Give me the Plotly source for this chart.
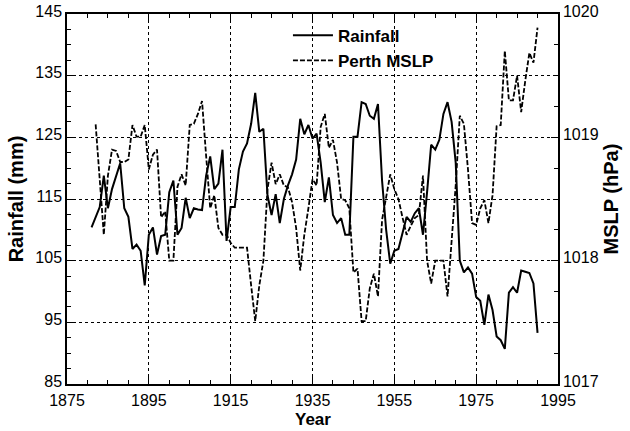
import plotly.graph_objects as go

# ---- data ----
rain_start_year = 1881
rainfall_mm = [
    110.4, 112.0, 113.7, 118.8, 113.5, 116.6, 118.7, 120.8, 113.5,          # 1881-1889
    112.1, 106.9, 107.6, 106.6, 101.0, 109.2, 110.4, 106.0, 109.0, 109.2,   # 1890-1899
    116.1, 118.0, 109.2, 110.3, 115.2, 111.9, 113.5, 113.3, 113.2, 118.8,   # 1900-1909
    121.9, 116.6, 117.5, 123.0, 108.2, 113.7, 113.7, 119.8, 122.7, 124.0,   # 1910-1919
    127.2, 132.2, 125.9, 126.4, 115.6, 112.4, 115.8, 111.1, 115.0, 117.2,   # 1920-1929
    119.0, 121.4, 128.0, 125.5, 127.0, 124.8, 125.6, 120.9, 114.5, 118.5,   # 1930-1939
    112.4, 111.1, 111.9, 109.2, 109.2, 125.1, 125.1, 130.7, 130.4, 128.5,   # 1940-1949
    128.0, 130.4, 118.0, 110.0, 104.5, 106.6, 106.9, 109.5, 112.1, 111.3,   # 1950-1959
    112.7, 113.5, 109.2, 116.1, 123.8, 123.0, 124.6, 128.8, 130.7, 127.5,   # 1960-1969
    120.9, 105.0, 103.1, 103.9, 102.9, 99.1, 98.5, 94.6, 99.5, 97.0,        # 1970-1979
    92.7, 92.1, 90.7, 99.8, 100.7, 99.8, 103.4, 103.2, 103.0, 101.3,        # 1980-1989
    93.3,                                                                   # 1990
]

mslp_start_year = 1882
mslp_hpa = [
    1019.105, 1018.69, 1018.21, 1018.69, 1018.90, 1018.89, 1018.80, 1018.80,   # 1882-1889
    1018.82, 1019.10, 1019.005, 1019.005, 1019.10, 1018.74, 1018.86, 1018.90, 1018.35, 1018.40,  # 1890-1899
    1018.00, 1018.00, 1018.60, 1018.70, 1018.61, 1019.10, 1019.11, 1019.19, 1019.295, 1018.85,   # 1900-1909
    1018.425, 1018.53, 1018.265, 1018.21, 1018.21, 1018.145, 1018.105, 1018.105, 1018.105, 1018.105,  # 1910-1919
    1017.80, 1017.51, 1017.80, 1018.00, 1018.58, 1018.795, 1018.62, 1018.70, 1018.61, 1018.595,  # 1920-1929
    1018.475, 1018.265, 1017.92, 1018.21, 1018.425, 1018.66, 1018.61, 1019.085, 1019.19, 1018.915,  # 1930-1939
    1018.98, 1018.795, 1018.50, 1018.49, 1018.425, 1017.905, 1017.935, 1017.51, 1017.51, 1017.775,  # 1940-1949
    1017.895, 1017.71, 1018.33, 1018.50, 1018.70, 1018.58, 1018.50, 1018.35, 1018.21, 1018.28,    # 1950-1959
    1018.345, 1018.37, 1018.69, 1018.00, 1017.815, 1018.00, 1018.00, 1018.00, 1017.71, 1018.175,  # 1960-1969
    1018.61, 1019.175, 1019.11, 1018.74, 1018.305, 1018.29, 1018.425, 1018.49, 1018.305, 1018.53, # 1970-1979
    1019.09, 1019.10, 1019.70, 1019.30, 1019.30, 1019.50, 1019.205, 1019.46, 1019.685, 1019.605,  # 1980-1989
    1019.89,                                                                                      # 1990
]

rain_years = list(range(rain_start_year, rain_start_year + len(rainfall_mm)))
mslp_years = list(range(mslp_start_year, mslp_start_year + len(mslp_hpa)))

x_ticks = list(range(1875, 1996, 20))
rain_ticks = list(range(85, 146, 10))
mslp_ticks = [1017, 1018, 1019, 1020]

FONT = "Liberation Sans, Arial, sans-serif"

fig = go.Figure()
fig.add_trace(go.Scatter(
    x=rain_years, y=rainfall_mm, name="Rainfall", mode="lines",
    line=dict(color="black", width=2),
))
fig.add_trace(go.Scatter(
    x=mslp_years, y=mslp_hpa, name="Perth MSLP", mode="lines", yaxis="y2",
    line=dict(color="black", width=1.8, dash="5px,2px"),
))

fig.update_layout(
    width=630, height=431,
    margin=dict(l=67, r=72, t=14, b=47),
    paper_bgcolor="white", plot_bgcolor="white",
    font=dict(family=FONT, color="black", size=16),
    showlegend=True,
    legend=dict(
        x=0.45, y=0.99, xanchor="left", yanchor="top",
        bgcolor="rgba(255,255,255,0)", borderwidth=0,
        font=dict(family=FONT, size=17, color="black", weight="bold"),
        tracegroupgap=0, itemwidth=40,
    ),
    xaxis=dict(
        range=[1875, 1995], tickvals=x_ticks, automargin=False,
        showline=True, linecolor="black", linewidth=1.5, mirror="ticks",
        ticks="inside", ticklen=7, tickwidth=1.2, tickcolor="black",
        minor=dict(dtick=5, tick0=1875, ticks="inside", ticklen=4, tickcolor="black", showgrid=False),
        showgrid=True, gridcolor="black", griddash="dot", gridwidth=1,
        zeroline=False, ticklabelstandoff=1,
        tickfont=dict(size=16),
    ),
    yaxis=dict(
        range=[85, 145], tickvals=rain_ticks, automargin=False,
        showline=True, linecolor="black", linewidth=1.5,
        ticks="inside", ticklen=7, tickwidth=1.2, tickcolor="black",
        minor=dict(dtick=2.5, tick0=85, ticks="inside", ticklen=4, tickcolor="black", showgrid=False),
        showgrid=True, gridcolor="black", griddash="dot", gridwidth=1,
        zeroline=False, ticklabelshift=-3,
        tickfont=dict(size=16),
        title=dict(text="Rainfall (mm)", font=dict(size=20, weight="bold"), standoff=6),
    ),
    yaxis2=dict(
        range=[1017, 1020], tickvals=mslp_ticks, overlaying="y", side="right", automargin=False,
        showline=True, linecolor="black", linewidth=1.5,
        ticks="inside", ticklen=7, tickwidth=1.2, tickcolor="black",
        minor=dict(dtick=0.25, tick0=1017, ticks="inside", ticklen=4, tickcolor="black", showgrid=False),
        showgrid=False, zeroline=False, ticklabelshift=-3,
        tickfont=dict(size=16),
        title=dict(text="MSLP (hPa)", font=dict(size=20, weight="bold"), standoff=6),
    ),
    annotations=[dict(
        text="<b>Year</b>", xref="paper", yref="paper", x=0.5, y=0,
        yshift=-46, xanchor="center", yanchor="bottom", showarrow=False, borderpad=0,
        font=dict(family=FONT, size=17, color="black"),
    )],
)

fig.write_html("out.html")
